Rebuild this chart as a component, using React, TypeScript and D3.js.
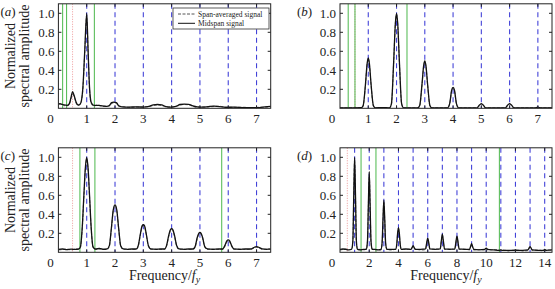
import { useRef, useEffect } from "react";
import * as d3 from "d3";

// Spectra: [frequency / f_y, normalized amplitude]
const midspanA = [
  [0.0, 0.05], [0.1, 0.045], [0.2, 0.035], [0.3, 0.03], [0.38, 0.045], [0.45, 0.12], [0.5, 0.175],
  [0.55, 0.14], [0.62, 0.07], [0.7, 0.035], [0.78, 0.05], [0.86, 0.2], [0.93, 0.6], [1.0, 1.0],
  [1.05, 0.6], [1.1, 0.22], [1.16, 0.06], [1.25, 0.03], [1.4, 0.03], [1.55, 0.025], [1.7, 0.02],
  [1.8, 0.03], [1.88, 0.06], [1.95, 0.065], [2.05, 0.06], [2.12, 0.03], [2.25, 0.015], [2.5, 0.012],
  [2.75, 0.015], [3.0, 0.012], [3.2, 0.02], [3.35, 0.035], [3.5, 0.04], [3.65, 0.035], [3.8, 0.018],
  [4.0, 0.012], [4.15, 0.02], [4.3, 0.04], [4.45, 0.045], [4.6, 0.042], [4.75, 0.025], [4.9, 0.015],
  [5.1, 0.012], [5.3, 0.018], [5.5, 0.022], [5.7, 0.018], [5.9, 0.01], [6.2, 0.012], [6.5, 0.008],
  [6.8, 0.006], [7.1, 0.008], [7.3, 0.015], [7.5, 0.02]
];
const spanAvgA = [
  [0.0, 0.04], [0.1, 0.05], [0.2, 0.03], [0.3, 0.025], [0.38, 0.04], [0.45, 0.1], [0.5, 0.15],
  [0.56, 0.12], [0.62, 0.06], [0.7, 0.03], [0.78, 0.045], [0.86, 0.18], [0.93, 0.58], [1.0, 0.98],
  [1.05, 0.58], [1.1, 0.2], [1.16, 0.05], [1.25, 0.025], [1.4, 0.035], [1.55, 0.02], [1.7, 0.025],
  [1.8, 0.025], [1.88, 0.05], [1.95, 0.06], [2.05, 0.055], [2.12, 0.025], [2.25, 0.02], [2.5, 0.01],
  [2.75, 0.012], [3.0, 0.015], [3.2, 0.018], [3.35, 0.03], [3.5, 0.035], [3.65, 0.03], [3.8, 0.015],
  [4.0, 0.015], [4.15, 0.018], [4.3, 0.035], [4.45, 0.04], [4.6, 0.038], [4.75, 0.02], [4.9, 0.012],
  [5.1, 0.015], [5.3, 0.015], [5.5, 0.02], [5.7, 0.02], [5.9, 0.012], [6.2, 0.01], [6.5, 0.01],
  [6.8, 0.008], [7.1, 0.01], [7.3, 0.012], [7.5, 0.018]
];

const midspanB = [
  [0.0, 0.005], [0.5, 0.005], [0.75, 0.006], [0.82, 0.03], [0.9, 0.25], [0.96, 0.47], [1.0, 0.53],
  [1.04, 0.47], [1.1, 0.25], [1.18, 0.03], [1.25, 0.005], [1.5, 0.008], [1.75, 0.005], [1.82, 0.05],
  [1.9, 0.5], [1.96, 0.9], [2.0, 1.0], [2.04, 0.9], [2.1, 0.5], [2.18, 0.05], [2.25, 0.005],
  [2.75, 0.005], [2.82, 0.03], [2.9, 0.25], [2.96, 0.45], [3.0, 0.5], [3.04, 0.45], [3.1, 0.25],
  [3.18, 0.03], [3.25, 0.005], [3.8, 0.005], [3.88, 0.05], [3.95, 0.19], [4.0, 0.22], [4.05, 0.19],
  [4.12, 0.05], [4.2, 0.005], [4.85, 0.005], [4.92, 0.03], [5.0, 0.05], [5.08, 0.03], [5.15, 0.005],
  [5.85, 0.005], [5.92, 0.03], [6.0, 0.05], [6.08, 0.03], [6.15, 0.005], [6.9, 0.005], [7.0, 0.012],
  [7.1, 0.005], [7.5, 0.005]
];
const spanAvgB = [
  [0.0, 0.004], [0.5, 0.006], [0.75, 0.005], [0.82, 0.025], [0.9, 0.24], [0.96, 0.46], [1.0, 0.52],
  [1.04, 0.46], [1.1, 0.24], [1.18, 0.025], [1.25, 0.006], [1.5, 0.006], [1.75, 0.006], [1.82, 0.045],
  [1.9, 0.49], [1.96, 0.89], [2.0, 0.99], [2.04, 0.89], [2.1, 0.49], [2.18, 0.045], [2.25, 0.006],
  [2.75, 0.006], [2.82, 0.025], [2.9, 0.24], [2.96, 0.44], [3.0, 0.49], [3.04, 0.44], [3.1, 0.24],
  [3.18, 0.025], [3.25, 0.006], [3.8, 0.006], [3.88, 0.045], [3.95, 0.18], [4.0, 0.21], [4.05, 0.18],
  [4.12, 0.045], [4.2, 0.006], [4.85, 0.006], [4.92, 0.025], [5.0, 0.045], [5.08, 0.025], [5.15, 0.006],
  [5.85, 0.006], [5.92, 0.025], [6.0, 0.045], [6.08, 0.025], [6.15, 0.006], [6.9, 0.006], [7.0, 0.01],
  [7.1, 0.006], [7.5, 0.006]
];

const midspanC = [
  [0.0, 0.03], [0.15, 0.035], [0.3, 0.028], [0.45, 0.033], [0.6, 0.03], [0.72, 0.035], [0.78, 0.06],
  [0.84, 0.25], [0.9, 0.6], [0.95, 0.88], [1.0, 1.0], [1.05, 0.88], [1.1, 0.6], [1.16, 0.25],
  [1.22, 0.06], [1.3, 0.035], [1.45, 0.04], [1.6, 0.03], [1.72, 0.035], [1.8, 0.07], [1.87, 0.25],
  [1.94, 0.45], [2.0, 0.5], [2.06, 0.45], [2.13, 0.25], [2.2, 0.07], [2.3, 0.035], [2.45, 0.03],
  [2.6, 0.035], [2.75, 0.035], [2.82, 0.07], [2.9, 0.2], [2.96, 0.28], [3.0, 0.29], [3.04, 0.28],
  [3.1, 0.2], [3.18, 0.07], [3.27, 0.035], [3.45, 0.03], [3.6, 0.035], [3.75, 0.035], [3.82, 0.07],
  [3.9, 0.18], [3.96, 0.24], [4.0, 0.25], [4.04, 0.24], [4.1, 0.18], [4.18, 0.07], [4.27, 0.035],
  [4.45, 0.03], [4.6, 0.035], [4.75, 0.035], [4.83, 0.06], [4.9, 0.15], [4.96, 0.2], [5.0, 0.21],
  [5.04, 0.2], [5.1, 0.15], [5.17, 0.06], [5.27, 0.035], [5.45, 0.03], [5.65, 0.035], [5.8, 0.035],
  [5.88, 0.07], [5.95, 0.12], [6.0, 0.13], [6.05, 0.12], [6.12, 0.07], [6.2, 0.035], [6.4, 0.03],
  [6.6, 0.035], [6.8, 0.035], [6.9, 0.05], [7.0, 0.06], [7.1, 0.05], [7.2, 0.035], [7.35, 0.03],
  [7.5, 0.035]
];
const spanAvgC = [
  [0.0, 0.025], [0.15, 0.03], [0.3, 0.035], [0.45, 0.025], [0.6, 0.035], [0.72, 0.03], [0.78, 0.055],
  [0.84, 0.24], [0.9, 0.58], [0.95, 0.86], [1.0, 0.98], [1.05, 0.86], [1.1, 0.58], [1.16, 0.24],
  [1.22, 0.055], [1.3, 0.03], [1.45, 0.035], [1.6, 0.035], [1.72, 0.03], [1.8, 0.065], [1.87, 0.24],
  [1.94, 0.44], [2.0, 0.49], [2.06, 0.44], [2.13, 0.24], [2.2, 0.065], [2.3, 0.03], [2.45, 0.035],
  [2.6, 0.03], [2.75, 0.03], [2.82, 0.065], [2.9, 0.19], [2.96, 0.27], [3.0, 0.28], [3.04, 0.27],
  [3.1, 0.19], [3.18, 0.065], [3.27, 0.03], [3.45, 0.035], [3.6, 0.03], [3.75, 0.03], [3.82, 0.065],
  [3.9, 0.17], [3.96, 0.23], [4.0, 0.24], [4.04, 0.23], [4.1, 0.17], [4.18, 0.065], [4.27, 0.03],
  [4.45, 0.035], [4.6, 0.03], [4.75, 0.03], [4.83, 0.055], [4.9, 0.14], [4.96, 0.19], [5.0, 0.2],
  [5.04, 0.19], [5.1, 0.14], [5.17, 0.055], [5.27, 0.03], [5.45, 0.035], [5.65, 0.03], [5.8, 0.03],
  [5.88, 0.065], [5.95, 0.11], [6.0, 0.12], [6.05, 0.11], [6.12, 0.065], [6.2, 0.03], [6.4, 0.035],
  [6.6, 0.03], [6.8, 0.03], [6.9, 0.045], [7.0, 0.055], [7.1, 0.045], [7.2, 0.03], [7.35, 0.035],
  [7.5, 0.03]
];

const midspanD = [
  [0.0, 0.03], [0.2, 0.035], [0.4, 0.03], [0.6, 0.025], [0.8, 0.035], [0.88, 0.12], [0.94, 0.6],
  [1.0, 1.0], [1.06, 0.6], [1.12, 0.12], [1.2, 0.03], [1.4, 0.025], [1.6, 0.03], [1.8, 0.03],
  [1.88, 0.12], [1.94, 0.5], [2.0, 0.85], [2.06, 0.5], [2.12, 0.12], [2.2, 0.03], [2.4, 0.03],
  [2.6, 0.025], [2.8, 0.03], [2.88, 0.1], [2.94, 0.35], [3.0, 0.55], [3.06, 0.35], [3.12, 0.1],
  [3.2, 0.03], [3.5, 0.03], [3.8, 0.03], [3.88, 0.08], [3.94, 0.2], [4.0, 0.26], [4.06, 0.2],
  [4.12, 0.08], [4.2, 0.03], [4.5, 0.035], [4.85, 0.03], [4.93, 0.05], [5.0, 0.07], [5.07, 0.05],
  [5.15, 0.03], [5.5, 0.03], [5.85, 0.035], [5.93, 0.1], [6.0, 0.15], [6.07, 0.1], [6.15, 0.035],
  [6.5, 0.03], [6.85, 0.035], [6.93, 0.12], [7.0, 0.19], [7.07, 0.12], [7.15, 0.035], [7.5, 0.03],
  [7.85, 0.035], [7.93, 0.11], [8.0, 0.17], [8.07, 0.11], [8.15, 0.035], [8.5, 0.03], [8.85, 0.03],
  [8.93, 0.06], [9.0, 0.09], [9.07, 0.06], [9.15, 0.03], [9.5, 0.025], [9.9, 0.03], [10.0, 0.045],
  [10.1, 0.03], [10.5, 0.025], [10.9, 0.02], [11.0, 0.025], [11.1, 0.02], [11.5, 0.02], [11.9, 0.02],
  [12.0, 0.025], [12.1, 0.02], [12.5, 0.02], [12.85, 0.025], [13.0, 0.06], [13.15, 0.025], [13.5, 0.02],
  [13.9, 0.02], [14.0, 0.03], [14.1, 0.02], [14.5, 0.025]
];
const spanAvgD = [
  [0.0, 0.025], [0.2, 0.03], [0.4, 0.035], [0.6, 0.03], [0.8, 0.03], [0.88, 0.11], [0.94, 0.58],
  [1.0, 0.98], [1.06, 0.58], [1.12, 0.11], [1.2, 0.035], [1.4, 0.03], [1.6, 0.025], [1.8, 0.035],
  [1.88, 0.11], [1.94, 0.48], [2.0, 0.83], [2.06, 0.48], [2.12, 0.11], [2.2, 0.035], [2.4, 0.025],
  [2.6, 0.03], [2.8, 0.025], [2.88, 0.09], [2.94, 0.33], [3.0, 0.53], [3.06, 0.33], [3.12, 0.09],
  [3.2, 0.035], [3.5, 0.025], [3.8, 0.035], [3.88, 0.07], [3.94, 0.19], [4.0, 0.25], [4.06, 0.19],
  [4.12, 0.07], [4.2, 0.035], [4.5, 0.03], [4.85, 0.035], [4.93, 0.045], [5.0, 0.065], [5.07, 0.045],
  [5.15, 0.035], [5.5, 0.025], [5.85, 0.03], [5.93, 0.09], [6.0, 0.14], [6.07, 0.09], [6.15, 0.03],
  [6.5, 0.035], [6.85, 0.03], [6.93, 0.11], [7.0, 0.18], [7.07, 0.11], [7.15, 0.03], [7.5, 0.035],
  [7.85, 0.03], [7.93, 0.1], [8.0, 0.16], [8.07, 0.1], [8.15, 0.03], [8.5, 0.035], [8.85, 0.025],
  [8.93, 0.055], [9.0, 0.085], [9.07, 0.055], [9.15, 0.025], [9.5, 0.03], [9.9, 0.025], [10.0, 0.04],
  [10.1, 0.025], [10.5, 0.03], [10.9, 0.025], [11.0, 0.02], [11.1, 0.025], [11.5, 0.015], [11.9, 0.025],
  [12.0, 0.02], [12.1, 0.025], [12.5, 0.015], [12.85, 0.02], [13.0, 0.055], [13.15, 0.02], [13.5, 0.025],
  [13.9, 0.015], [14.0, 0.025], [14.1, 0.025], [14.5, 0.02]
];

// Reference frequencies (harmonics, green markers, red dotted marker)
const harmonicsLow = [1, 2, 3, 4, 5, 6, 7];
const harmonicsHigh = [1, 2, 3, 4, 5, 6, 7, 8, 9, 10, 11, 12, 13, 14];
const greenA = [0.15, 0.29, 1.27];
const greenB = [0.29, 0.53, 2.37];
const greenC = [0.76, 1.29, 5.77];
const greenD = [1.44, 2.46, 10.9];
const redA = [0.5];
const redB = [0.53];
const redC = [0.5];
const redD = [0.5];

const xTicksLow = [1, 2, 3, 4, 5, 6, 7];
const xTicksHigh = [2, 4, 6, 8, 10, 12, 14];
const yTicks = [0.2, 0.4, 0.6, 0.8, 1.0];

const legendLabels = ["Span-averaged signal", "Midspan signal"];

const FONT = "'Liberation Serif', 'Times New Roman', serif";

export default function App() {
  const ref = useRef<SVGSVGElement>(null);

  useEffect(() => {
    const svg = d3.select(ref.current);
    svg.selectAll("*").remove();

    const cols = [[58.4, 270.7], [340, 552]];
    const rows = [[3.8, 108.3], [147.8, 252.3]];

    const panels = [
      { id: "a", col: 0, row: 0, xMax: 7.5, mid: midspanA, avg: spanAvgA, harm: harmonicsLow, green: greenA, red: redA, ticks: xTicksLow, ylabel: true, xlabel: false, legend: true },
      { id: "b", col: 1, row: 0, xMax: 7.5, mid: midspanB, avg: spanAvgB, harm: harmonicsLow, green: greenB, red: redB, ticks: xTicksLow, ylabel: false, xlabel: false, legend: false },
      { id: "c", col: 0, row: 1, xMax: 7.5, mid: midspanC, avg: spanAvgC, harm: harmonicsLow, green: greenC, red: redC, ticks: xTicksLow, ylabel: true, xlabel: true, legend: false },
      { id: "d", col: 1, row: 1, xMax: 14.5, mid: midspanD, avg: spanAvgD, harm: harmonicsHigh, green: greenD, red: redD, ticks: xTicksHigh, ylabel: false, xlabel: true, legend: false }
    ];

    panels.forEach((p) => {
      const [x0, x1] = cols[p.col];
      const [y0, y1] = rows[p.row];
      const x = d3.scaleLinear().domain([0, p.xMax]).range([x0, x1]);
      const y = d3.scaleLinear().domain([0, 1.1]).range([y1, y0]);
      const g = svg.append("g");

      const clipId = "clip-" + p.id;
      g.append("clipPath").attr("id", clipId)
        .append("rect").attr("x", x0).attr("y", y0).attr("width", x1 - x0).attr("height", y1 - y0);
      const plot = g.append("g").attr("clip-path", `url(#${clipId})`);

      // harmonic markers
      plot.selectAll(".harm").data(p.harm).enter().append("line")
        .attr("x1", (d) => x(d)).attr("x2", (d) => x(d))
        .attr("y1", y0).attr("y2", y1)
        .attr("stroke", "#4343d8").attr("stroke-width", 1.1)
        .attr("stroke-dasharray", "5,3.5");

      plot.selectAll(".red").data(p.red).enter().append("line")
        .attr("x1", (d) => x(d)).attr("x2", (d) => x(d))
        .attr("y1", y0).attr("y2", y1)
        .attr("stroke", "#e88080").attr("stroke-width", 0.8)
        .attr("stroke-dasharray", "1,1.5");

      plot.selectAll(".green").data(p.green).enter().append("line")
        .attr("x1", (d) => x(d)).attr("x2", (d) => x(d))
        .attr("y1", y0).attr("y2", y1)
        .attr("stroke", "#4cb84c").attr("stroke-width", 1);

      const line = d3.line<number[]>()
        .x((d) => x(d[0]))
        .y((d) => y(d[1]))
        .curve(d3.curveMonotoneX);

      plot.append("path").attr("d", line(p.avg) as string)
        .attr("fill", "none").attr("stroke", "#777").attr("stroke-width", 1.1)
        .attr("stroke-dasharray", "3,1.5");
      plot.append("path").attr("d", line(p.mid) as string)
        .attr("fill", "none").attr("stroke", "#111").attr("stroke-width", 1.3);

      // frame with inward ticks
      g.append("rect").attr("x", x0).attr("y", y0).attr("width", x1 - x0).attr("height", y1 - y0)
        .attr("fill", "none").attr("stroke", "#222").attr("stroke-width", 1);

      const tl = 3;
      p.ticks.forEach((t) => {
        g.append("line").attr("x1", x(t)).attr("x2", x(t)).attr("y1", y1).attr("y2", y1 - tl).attr("stroke", "#222");
        g.append("line").attr("x1", x(t)).attr("x2", x(t)).attr("y1", y0).attr("y2", y0 + tl).attr("stroke", "#222");
      });
      yTicks.forEach((t) => {
        g.append("line").attr("x1", x0).attr("x2", x0 + tl).attr("y1", y(t)).attr("y2", y(t)).attr("stroke", "#222");
        g.append("line").attr("x1", x1).attr("x2", x1 - tl).attr("y1", y(t)).attr("y2", y(t)).attr("stroke", "#222");
      });

      // tick labels
      g.selectAll(".xt").data(p.ticks).enter().append("text")
        .attr("x", (d) => x(d)).attr("y", y1 + 14.5)
        .attr("text-anchor", "middle").attr("font-family", FONT).attr("font-size", 13)
        .attr("fill", "#222").text((d) => String(d));
      g.append("text").attr("x", x0 - 8).attr("y", y1 + 14.5)
        .attr("text-anchor", "middle").attr("font-family", FONT).attr("font-size", 13)
        .attr("fill", "#222").text("0");
      g.selectAll(".yt").data(yTicks).enter().append("text")
        .attr("x", x0 - 4).attr("y", (d) => y(d) + 4.5)
        .attr("text-anchor", "end").attr("font-family", FONT).attr("font-size", 13)
        .attr("fill", "#222").text((d) => d.toFixed(1));

      // panel label
      const lab = g.append("text").attr("x", p.col === 0 ? 0.5 : 297).attr("y", y0 + 12)
        .attr("font-family", FONT).attr("font-size", 13).attr("fill", "#222");
      lab.append("tspan").text("(");
      lab.append("tspan").attr("font-style", "italic").text(p.id);
      lab.append("tspan").text(")");

      if (p.ylabel) {
        const yc = (y0 + y1) / 2;
        ["Normalized", "spectral amplitude"].forEach((s, i) => {
          g.append("text")
            .attr("transform", `translate(${i === 0 ? 14.5 : 28.5},${yc}) rotate(-90)`)
            .attr("text-anchor", "middle").attr("font-family", FONT).attr("font-size", 14)
            .attr("fill", "#222").text(s);
        });
      }

      if (p.xlabel) {
        const t = g.append("text").attr("x", (x0 + x1) / 2).attr("y", y1 + 28)
          .attr("text-anchor", "middle").attr("font-family", FONT).attr("font-size", 14).attr("fill", "#222");
        t.append("tspan").text("Frequency/");
        t.append("tspan").attr("font-style", "italic").text("f");
        t.append("tspan").attr("font-style", "italic").attr("font-size", 10).attr("dy", 3).text("y");
      }

      if (p.legend) {
        const lg = g.append("g");
        lg.append("rect").attr("x", 173).attr("y", 8).attr("width", 96).attr("height", 21)
          .attr("fill", "#fff").attr("stroke", "#333").attr("stroke-width", 0.8);
        legendLabels.forEach((s, i) => {
          const ly = 14 + i * 9.3;
          lg.append("line").attr("x1", 178).attr("x2", 195).attr("y1", ly).attr("y2", ly)
            .attr("stroke", i === 0 ? "#555" : "#111").attr("stroke-width", 1)
            .attr("stroke-dasharray", i === 0 ? "3,1.5" : null);
          lg.append("text").attr("x", 198).attr("y", ly + 2.6)
            .attr("font-family", FONT).attr("font-size", 7.5).attr("fill", "#222").text(s);
        });
      }
    });
  }, []);

  return (
    <div>
      <svg ref={ref} width={555} height={289} style={{ position: "absolute", left: 0, top: 0, background: "#fff" }} />
    </div>
  );
}
